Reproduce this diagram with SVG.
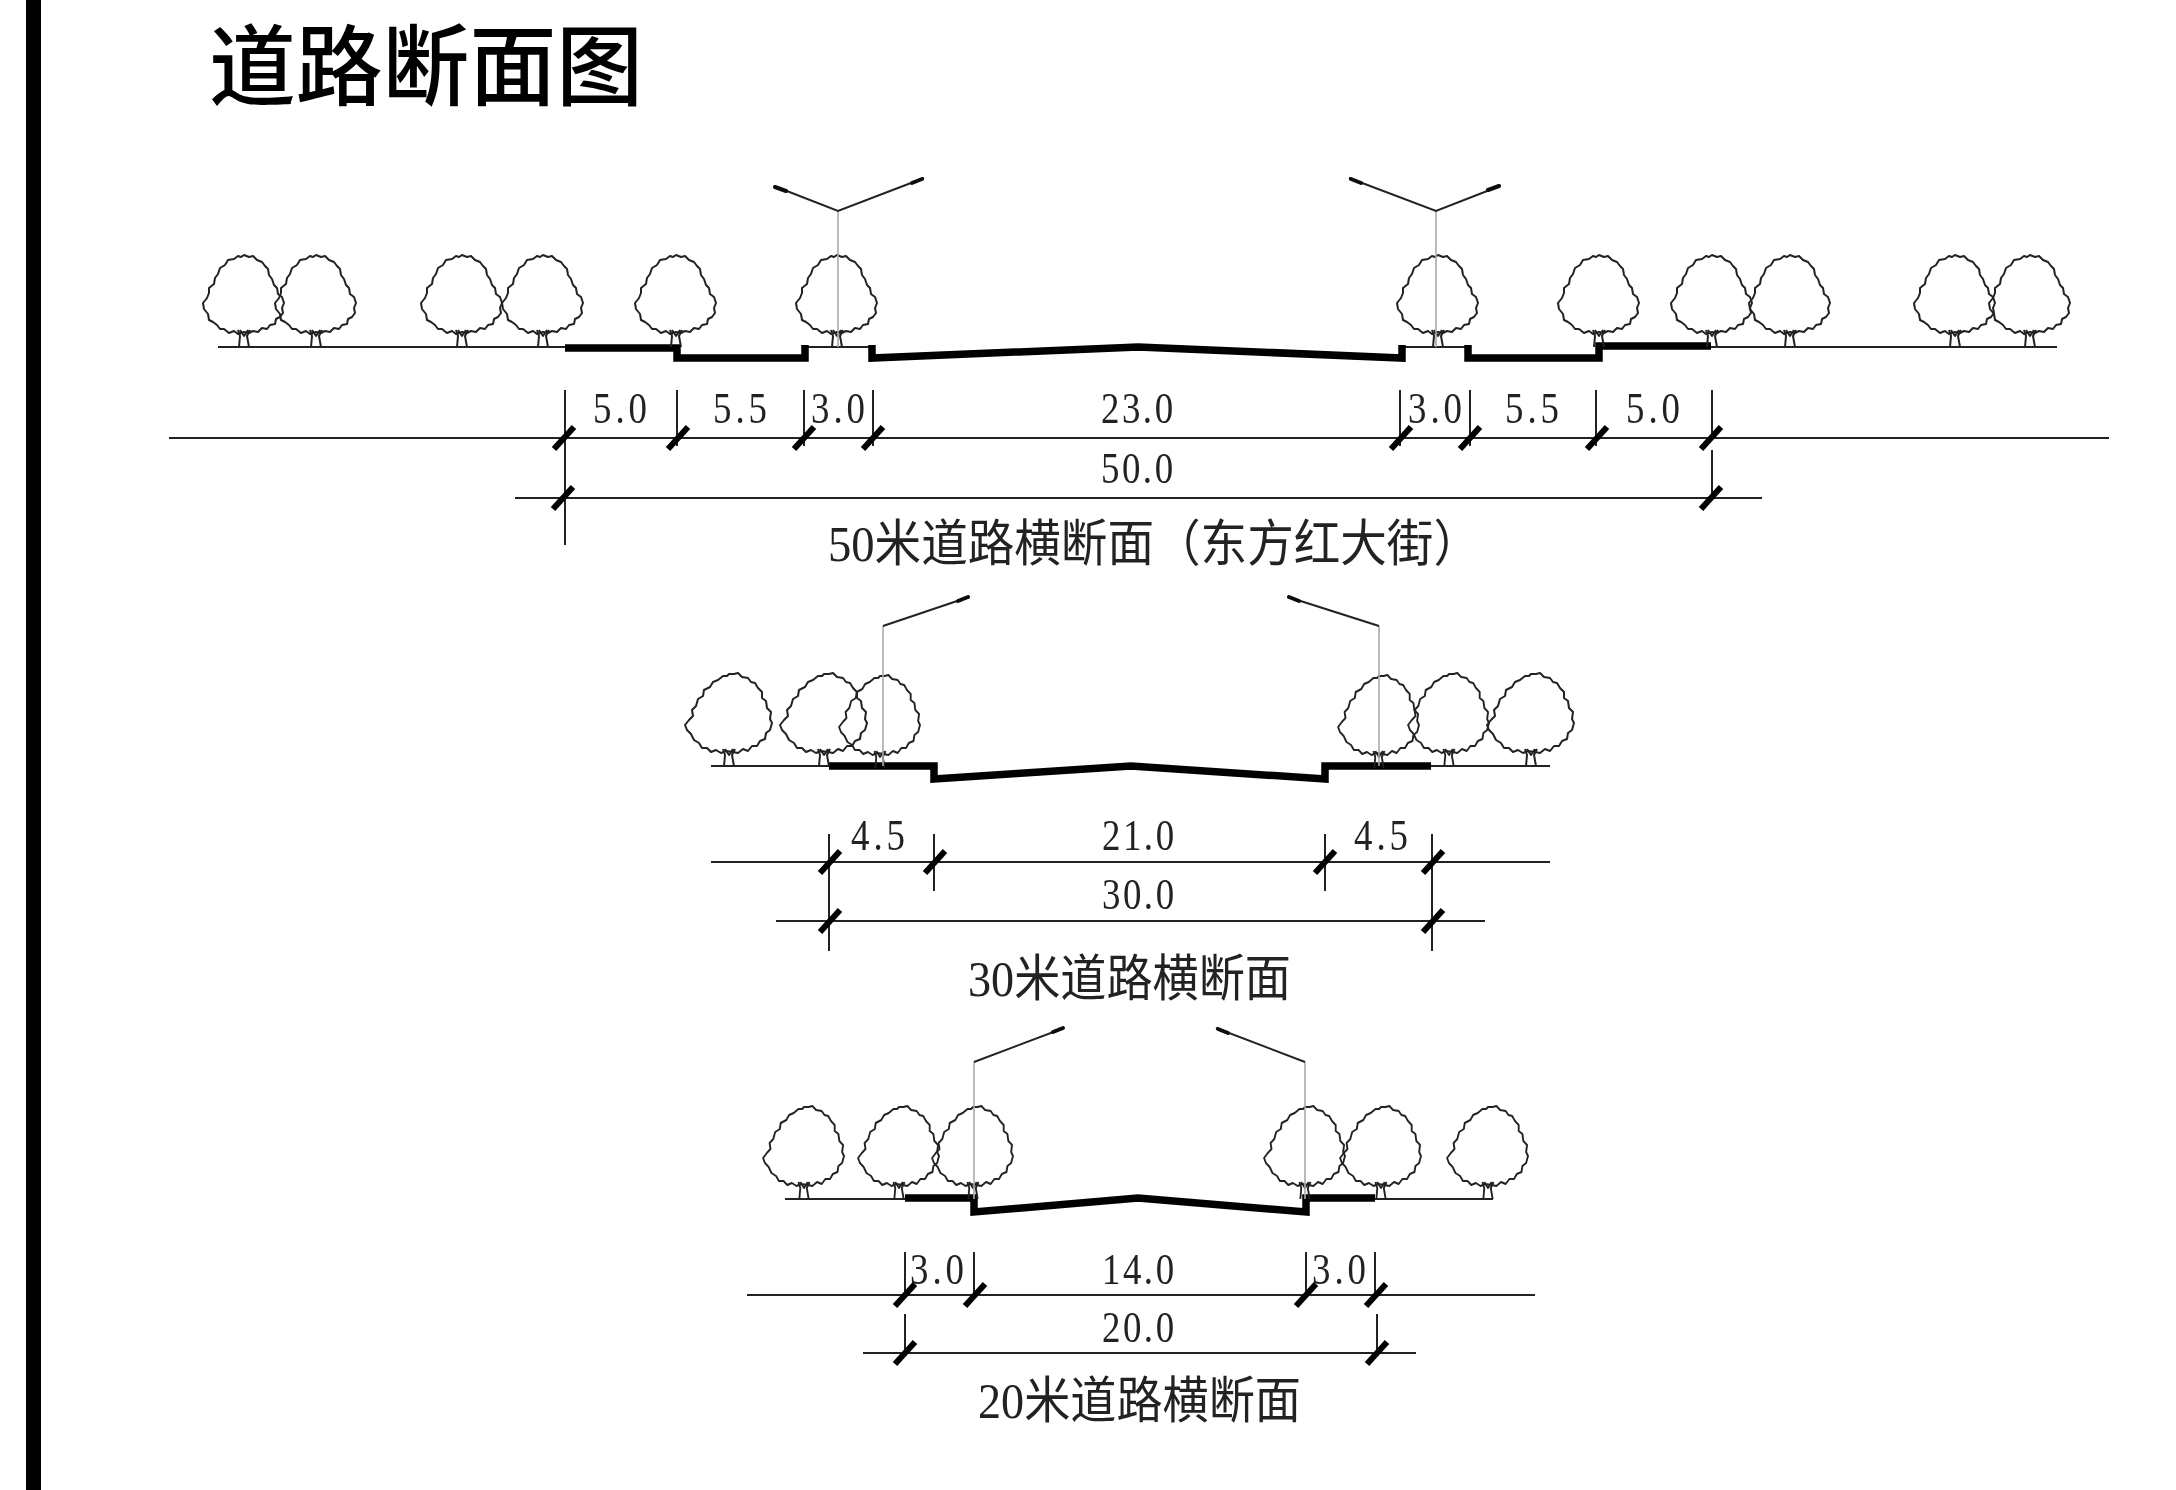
<svg xmlns="http://www.w3.org/2000/svg" width="2176" height="1490" viewBox="0 0 2176 1490">
<style>
.thin{fill:none;stroke:#222;stroke-width:2}
.thick{fill:none;stroke:#000;stroke-width:7.5;stroke-linejoin:miter}
.tick{stroke:#000;stroke-width:6;fill:none}
.pole{stroke:#aaa;stroke-width:1.6;fill:none}
.arm{stroke:#222;stroke-width:2;fill:none}
.head{stroke:#111;stroke-width:4;fill:none;stroke-linecap:round}
.dim{font-family:"Liberation Serif","Noto Sans CJK SC",serif;font-size:45px;fill:#222;text-anchor:middle}
.cap{font-family:"Liberation Serif","Noto Sans CJK SC",sans-serif;font-size:50px;fill:#222;font-weight:400}
.title{font-family:"Noto Sans CJK SC",sans-serif;font-size:88px;fill:#000;font-weight:500}
.crown{fill:none;stroke:#222;stroke-width:2;stroke-linejoin:round}
</style>
<defs>
<g id="trunk"><path class="crown" d="M-6,-17L-4,-11L-5,0M6,-17L3,-11L5,0M-4,-17L0,-11L4,-17"/></g>
<g id="egg"><path class="crown" d="M0,-92L5,-90L9,-91L13,-87L18,-85L21,-81L24,-78L25,-72L28,-68L30,-62L33,-59L34,-53L38,-50L40,-44L38,-39L39,-34L36,-30L32,-28L31,-23L26,-22L23,-18L18,-19L14,-15L9,-16L5,-14L0,-15L-6,-13L-10,-16L-15,-14L-20,-18L-24,-18L-27,-22L-31,-25L-35,-27L-36,-33L-40,-38L-41,-44L-37,-49L-35,-54L-35,-59L-30,-63L-29,-69L-26,-73L-24,-79L-19,-82L-16,-87L-10,-88L-6,-91L-3,-90Z"/><use href="#trunk"/></g>
<g id="round"><path class="crown" d="M0,-92L5,-92L9,-93L13,-89L19,-88L22,-84L26,-83L29,-78L33,-74L33,-68L37,-65L38,-58L42,-54L41,-47L43,-43L41,-36L37,-33L36,-27L31,-25L28,-20L23,-20L19,-15L14,-17L9,-13L4,-14L-3,-15L-8,-13L-13,-16L-18,-14L-22,-18L-27,-18L-30,-23L-35,-26L-38,-32L-42,-36L-44,-41L-40,-46L-36,-50L-37,-56L-33,-60L-31,-67L-26,-70L-25,-76L-19,-79L-16,-84L-11,-86L-6,-90L-2,-90Z"/><use href="#trunk"/></g>
<g id="roundn" transform="scale(.93,1)"><use href="#round"/></g>
<path id="t" class="tick" d="M-10,11L10,-11"/>
<filter id="soft" x="0" y="0" width="100%" height="100%"><feGaussianBlur stdDeviation="0.7"/></filter>
</defs>
<rect width="2176" height="1490" fill="#fff"/>
<g filter="url(#soft)">
<rect id="left-bar" x="26" y="0" width="15" height="1490" fill="#000"/>
<text id="title" class="title" x="209" y="98" textLength="434" lengthAdjust="spacingAndGlyphs">道路断面图</text>

<g id="section-50">
<g id="road-50">
<path class="thin" d="M218,347H565M805,347H872M1402,347H1468M1711,347H2057"/>
<path class="thick" d="M565,348H677V358H805V345M872,345V358L1138,347L1402,358V345M1468,345V358H1599V346H1711"/>
</g>
<g id="trees-50">
<use href="#egg" x="244" y="347"/><use href="#egg" x="316" y="347"/><use href="#egg" x="462" y="347"/><use href="#egg" x="543" y="347"/><use href="#egg" x="676" y="347"/><use href="#egg" x="837" y="347"/><use href="#egg" x="1438" y="347"/><use href="#egg" x="1599" y="347"/><use href="#egg" x="1712" y="347"/><use href="#egg" x="1790" y="347"/><use href="#egg" x="1955" y="347"/><use href="#egg" x="2030" y="347"/>
</g>
<g id="lamps-50">
<path class="pole" d="M838,211V347M1436,211V347"/>
<path class="arm" d="M774,186L838,211L924,178M1349,178L1436,211L1500,186"/>
<path class="head" d="M775,187L786,191M922,179L912,183M1351,179L1361,183M1499,186L1488,190"/>
</g>
<g id="dims-50">
<path class="thin" d="M169,438H2109M515,498H1762M565,390V545M677,390V446M804,390V446M873,390V446M1400,390V446M1470,390V446M1596,390V446M1712,390V440M1712,450V498"/>
<use href="#t" x="564" y="438"/><use href="#t" x="678" y="438"/><use href="#t" x="804" y="438"/><use href="#t" x="873" y="438"/><use href="#t" x="1401" y="438"/><use href="#t" x="1470" y="438"/><use href="#t" x="1597" y="438"/><use href="#t" x="1711" y="438"/><use href="#t" x="563" y="498"/><use href="#t" x="1711" y="498"/>
<text class="dim" transform="translate(620,423) scale(.82,1)" textLength="66">5.0</text>
<text class="dim" transform="translate(740,423) scale(.82,1)" textLength="66">5.5</text>
<text class="dim" transform="translate(838,423) scale(.82,1)" textLength="66">3.0</text>
<text class="dim" transform="translate(1137,423) scale(.82,1)" textLength="88">23.0</text>
<text class="dim" transform="translate(1435,423) scale(.82,1)" textLength="66">3.0</text>
<text class="dim" transform="translate(1532,423) scale(.82,1)" textLength="66">5.5</text>
<text class="dim" transform="translate(1653,423) scale(.82,1)" textLength="66">5.0</text>
<text class="dim" transform="translate(1137,483) scale(.82,1)" textLength="88">50.0</text>
</g>
<text id="caption-50" class="cap" x="828" y="561" textLength="652" lengthAdjust="spacingAndGlyphs">50米道路横断面（东方红大街）</text>
</g>

<g id="section-30">
<g id="road-30">
<path class="thin" d="M711,766H829M1431,766H1550"/>
<path class="thick" d="M829,766H934V779L1131,766L1325,779V766H1431"/>
</g>
<g id="trees-30">
<use href="#round" x="729" y="766"/><use href="#round" x="824" y="766"/><use href="#roundn" x="880" y="768"/><use href="#roundn" x="1379" y="768"/><use href="#roundn" x="1449" y="766"/><use href="#round" x="1531" y="766"/>
</g>
<g id="lamps-30">
<path class="pole" d="M883,626V766M1379,626V766"/>
<path class="arm" d="M883,626L969,597M1379,626L1288,597"/>
<path class="head" d="M968,597L958,601M1289,597L1299,601"/>
</g>
<g id="dims-30">
<path class="thin" d="M711,862H1550M776,921H1485M829,834V951M934,834V891M1325,834V891M1432,834V951"/>
<use href="#t" x="830" y="862"/><use href="#t" x="935" y="862"/><use href="#t" x="1325" y="862"/><use href="#t" x="1433" y="862"/><use href="#t" x="830" y="921"/><use href="#t" x="1433" y="921"/>
<text class="dim" transform="translate(878,850) scale(.82,1)" textLength="66">4.5</text>
<text class="dim" transform="translate(1138,850) scale(.82,1)" textLength="88">21.0</text>
<text class="dim" transform="translate(1381,850) scale(.82,1)" textLength="66">4.5</text>
<text class="dim" transform="translate(1138,909) scale(.82,1)" textLength="88">30.0</text>
</g>
<text id="caption-30" class="cap" x="968" y="996" textLength="323" lengthAdjust="spacingAndGlyphs">30米道路横断面</text>
</g>

<g id="section-20">
<g id="road-20">
<path class="thin" d="M785,1199H905M1375,1199H1493"/>
<path class="thick" d="M905,1198H974V1212L1138,1198L1306,1212V1198H1375"/>
</g>
<g id="trees-20">
<use href="#roundn" x="804" y="1199"/><use href="#roundn" x="899" y="1199"/><use href="#roundn" x="973" y="1199"/><use href="#roundn" x="1305" y="1199"/><use href="#roundn" x="1381" y="1199"/><use href="#roundn" x="1488" y="1199"/>
</g>
<g id="lamps-20">
<path class="pole" d="M974,1062V1199M1305,1062V1199"/>
<path class="arm" d="M974,1062L1064,1028M1305,1062L1216,1028"/>
<path class="head" d="M1063,1028L1053,1032M1218,1029L1228,1033"/>
</g>
<g id="dims-20">
<path class="thin" d="M747,1295H1535M863,1353H1416M905,1252V1295M974,1252V1295M1306,1252V1295M1375,1252V1295M905,1314V1353M1377,1314V1353"/>
<use href="#t" x="905" y="1295"/><use href="#t" x="975" y="1295"/><use href="#t" x="1306" y="1295"/><use href="#t" x="1376" y="1295"/><use href="#t" x="905" y="1353"/><use href="#t" x="1377" y="1353"/>
<text class="dim" transform="translate(937,1284) scale(.82,1)" textLength="66">3.0</text>
<text class="dim" transform="translate(1138,1284) scale(.82,1)" textLength="88">14.0</text>
<text class="dim" transform="translate(1339,1284) scale(.82,1)" textLength="66">3.0</text>
<text class="dim" transform="translate(1138,1342) scale(.82,1)" textLength="88">20.0</text>
</g>
<text id="caption-20" class="cap" x="978" y="1418" textLength="323" lengthAdjust="spacingAndGlyphs">20米道路横断面</text>
</g>
</g>
</svg>
